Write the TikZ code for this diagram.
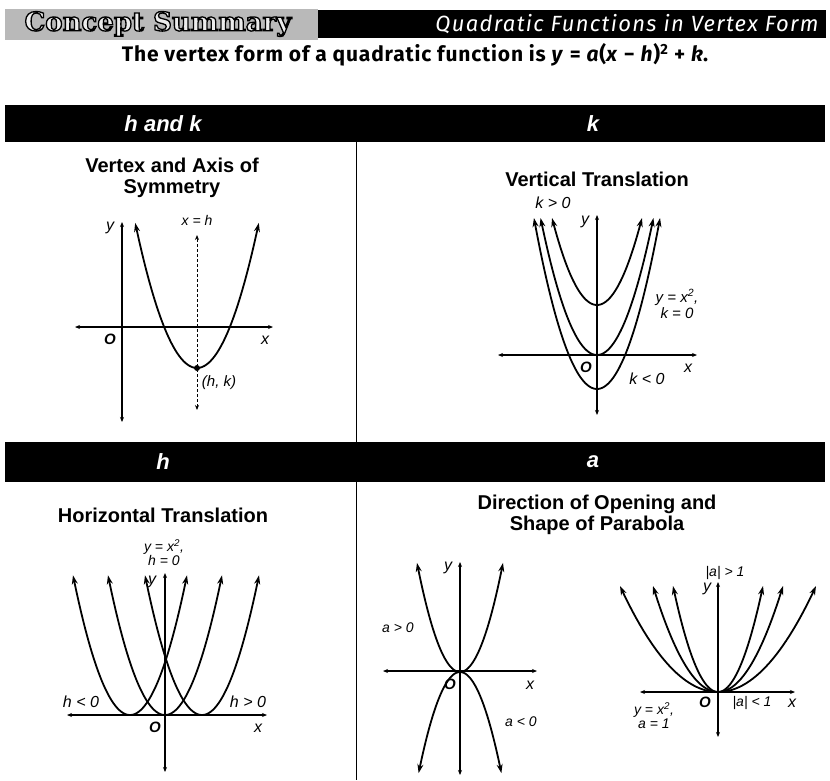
\documentclass[tikz,border=0pt]{standalone}
\usepackage{fontspec}
\setmainfont{Liberation Sans}
\newfontfamily\humfont[LetterSpace=4]{Fira Sans}
\newfontfamily\humitfont[LetterSpace=6]{Fira Sans}
\newfontfamily\csfont{DejaVu Serif}
\usepackage{tikz}
\usetikzlibrary{arrows.meta,positioning,calc}
\newcommand{\vi}[1]{\textit{#1}}
\newcommand{\outlined}[1]{\special{pdf:literal direct 0 G 1.3 w 2 Tr}#1\special{pdf:literal direct 0 Tr 0.4 w}}
\tikzset{
  band/.style={fill=black, draw=none},
  bandlabel/.style={text=white, font=\bfseries\itshape\fontsize{22}{22}\selectfont},
  paneltitle/.style={font=\bfseries\fontsize{20}{21}\selectfont, align=center},
  axis/.style={line width=1.1pt, {Stealth[length=5pt,width=4pt]}-{Stealth[length=5pt,width=4pt]}},
  curve/.style={line width=1.8pt, {Stealth[length=9pt,width=6pt]}-{Stealth[length=9pt,width=6pt]}},
  lbl/.style={font=\itshape\fontsize{16}{16}\selectfont, inner sep=1pt, align=center},
  slbl/.style={font=\itshape\fontsize{14}{14}\selectfont, inner sep=1pt, align=center},
  olbl/.style={font=\bfseries\itshape\fontsize{15}{15}\selectfont, inner sep=1pt},
  divider/.style={line width=0.9pt}
}
\begin{document}
\begin{tikzpicture}[x=1pt,y=-1pt]
\useasboundingbox (0,0) rectangle (830,780);
\fill[white] (0,0) rectangle (830,780);
% header
\fill[gray!55] (5,9) rectangle (318,40);
\fill[band] (318,10) rectangle (826,38);
\node[text=gray!15, font=\csfont\bfseries\fontsize{26}{26}\selectfont] (cs) at (158,24) {\outlined{Concept Summary}};
\node[text=white, font=\humitfont\itshape\fontsize{22}{22}\selectfont] (title) at (627,24) {Quadratic Functions in Vertex Form};
\node[font=\humfont\bfseries\fontsize{21}{21}\selectfont] (sub) at (415,55)
  {The vertex form of a quadratic function is \vi{y} = \vi{a}(\vi{x} − \vi{h})\textsuperscript{2} + \vi{k}.};
% bands and dividers
\fill[band] (5,105) rectangle (825,142);
\fill[band] (5,442) rectangle (825,482);
\node[bandlabel] (bhk) at (163,124) {h and k};
\node[bandlabel] (bk) at (593,124) {k};
\node[bandlabel] (bh) at (163,462) {h};
\node[bandlabel] (ba) at (593,462) {a};
\draw[divider] (356,142) -- (356,442);
\draw[divider] (356,482) -- (356,780);

% panel: vertex and axis of symmetry
\node[paneltitle] (t1) at (172,178) {Vertex and Axis of\\Symmetry};
\draw[axis] (75,327) -- (273,327);
\draw[axis] (122,422) -- (122,222);
\draw[line width=0.9pt, dash pattern=on 3pt off 2pt, {Stealth[length=5pt,width=4pt]}-{Stealth[length=5pt,width=4pt]}] (197,410) -- (197,235);
\draw[curve] plot[domain=-61.8:61.8, samples=60] ({197+\x},{368-0.038*\x*\x});
\fill (197,368) circle (3pt);
\node[slbl] (xh) at (197,220) {x = h};
\node[lbl, font=\itshape\fontsize{15}{15}\selectfont] (hk) at (219,383) {(h, k)};
\node[lbl] (y1) at (110,228) {y};
\node[olbl] (o1) at (110,339) {O};
\node[lbl] (x1) at (265,340) {x};

% panel: vertical translation
\node[paneltitle] (t2) at (597,179) {Vertical Translation};
\draw[axis] (498,355) -- (697,355);
\draw[axis] (597,415) -- (597,215);
\foreach \vy in {305,355,389} {
  \pgfmathsetmacro\w{sqrt((\vy-218)/0.043)}
  \draw[curve] plot[domain=-\w:\w, samples=60] ({597+\x},{\vy-0.043*\x*\x});
}
\node[lbl] (kp) at (553,203) {k > 0};
\node[lbl, font=\itshape\fontsize{15}{16}\selectfont] (kz) at (677,304) {y = x\textsuperscript{2},\\k = 0};
\node[lbl] (kn) at (647,379) {k < 0};
\node[lbl] (y2) at (585,222) {y};
\node[olbl] (o2) at (586,367) {O};
\node[lbl] (x2) at (688,368) {x};

% panel: horizontal translation
\node[paneltitle] (t3) at (163,515) {Horizontal Translation};
\draw[axis] (67,715) -- (267,715);
\draw[axis] (165,772) -- (165,573);
\foreach \vx in {130,165,202}
  \draw[curve] plot[domain=-57:57, samples=60] ({\vx+\x},{715-0.043*\x*\x});
\node[slbl] (hz) at (164,553) {y = x\textsuperscript{2},\\h = 0};
\node[lbl] (hn) at (81,702) {h < 0};
\node[lbl] (hp) at (248,702) {h > 0};
\node[lbl] (y3) at (152,582) {y};
\node[olbl] (o3) at (155,727) {O};
\node[lbl] (x3) at (258,728) {x};

% panel: direction of opening and shape
\node[paneltitle] (t4) at (597,515) {Direction of Opening and\\Shape of Parabola};
\draw[axis] (383,671) -- (537,671);
\draw[axis] (460,775) -- (460,562);
\draw[curve] plot[domain=-43:43, samples=60] ({460+\x},{672-0.059*\x*\x});
\draw[curve] plot[domain=-41.4:41.4, samples=60] ({460+\x},{672+0.059*\x*\x});
\node[slbl] (ap) at (398,628) {a > 0};
\node[slbl] (an) at (521,722) {a < 0};
\node[lbl] (y4) at (448,568) {y};
\node[olbl] (o4) at (450,684) {O};
\node[lbl] (x4) at (530,685) {x};

\draw[axis] (640,692) -- (795,692);
\draw[axis] (718,737) -- (718,582);
\foreach \w in {98,65,45}
  \draw[curve] plot[domain=-\w:\w, samples=60] ({718+\x},{692-106/(\w*\w)*\x*\x});
\node[slbl] (ag) at (725,573) {|a| > 1};
\node[slbl] (al) at (752,703) {|a| < 1};
\node[slbl] (a1) at (654,716) {y = x\textsuperscript{2},\\a = 1};
\node[lbl] (y5) at (707,589) {y};
\node[olbl] (o5) at (705,702) {O};
\node[lbl] (x5) at (792,703) {x};
\end{tikzpicture}
\end{document}
